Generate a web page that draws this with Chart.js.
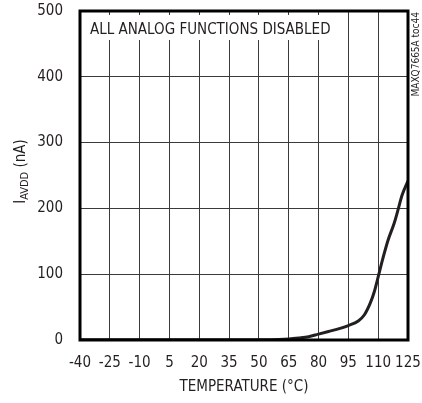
<!DOCTYPE html>
<html lang="en">
<head>
    <meta charset="UTF-8">
    <title>IAVDD vs Temperature</title>
    <script src="https://cdn.jsdelivr.net/npm/chart.js"></script>
    <style>
        body { margin: 0; background: #fff; }
        canvas { display: block; }
    </style>
</head>
<body>
    <canvas id="chart" width="422" height="403"></canvas>

    <script>
        const temps = [-40, -25, -10, 5, 20, 35, 50, 60, 65, 70, 75, 80, 85, 90, 95, 100, 103, 106, 108, 110, 112, 115, 118, 120, 122, 125];
        const current = [0.5, 0.5, 0.5, 0.5, 0.5, 0.5, 0.5, 0.8, 1.5, 3, 5, 9, 13, 17, 22, 29, 38, 56, 73, 96, 120, 152, 177, 198, 220, 242];
        const xTicks = [-40, -25, -10, 5, 20, 35, 50, 65, 80, 95, 110, 125];
        const yTicks = [0, 100, 200, 300, 400, 500];
        const note = 'ALL ANALOG FUNCTIONS DISABLED';
        const tocLabel = 'MAXQ7665A toc44';

        const FONT = "'Liberation Sans Narrow', 'DejaVu Sans Condensed', sans-serif";
        Chart.defaults.font.family = FONT;
        Chart.defaults.color = '#231f20';

        const extras = {
            id: 'extras',
            beforeDatasetsDraw(chart) {
                const { ctx, chartArea: a } = chart;
                ctx.save();
                // white box behind the note, covers the gridlines
                ctx.fillStyle = '#fff';
                ctx.fillRect(a.left + 1, a.top + 4, 255, 25);
                ctx.fillStyle = '#231f20';
                ctx.font = '15px ' + FONT;
                ctx.textBaseline = 'middle';
                ctx.fillText(note, a.left + 10, a.top + 19);
                ctx.restore();
            },
            afterDraw(chart) {
                const { ctx, chartArea: a } = chart;
                ctx.save();
                // frame
                ctx.strokeStyle = '#000';
                ctx.lineWidth = 3;
                ctx.strokeRect(a.left, a.top, a.right - a.left, a.bottom - a.top);

                ctx.fillStyle = '#231f20';
                // x title
                ctx.font = '15px ' + FONT;
                ctx.textAlign = 'center';
                ctx.textBaseline = 'middle';
                ctx.fillText('TEMPERATURE (°C)', (a.left + a.right) / 2, 387);

                // y title with subscript
                ctx.save();
                ctx.translate(20, (a.top + a.bottom) / 2 - 4);
                ctx.rotate(-Math.PI / 2);
                ctx.textAlign = 'left';
                ctx.textBaseline = 'alphabetic';
                const big = '15px ' + FONT, small = '11px ' + FONT;
                ctx.font = big;
                const w1 = ctx.measureText('I').width;
                ctx.font = small;
                const w2 = ctx.measureText('AVDD').width;
                ctx.font = big;
                const w3 = ctx.measureText(' (nA)').width;
                let x = -(w1 + w2 + w3) / 2;
                ctx.fillText('I', x, 5);
                x += w1;
                ctx.font = small;
                ctx.fillText('AVDD', x, 8);
                x += w2;
                ctx.font = big;
                ctx.fillText(' (nA)', x, 5);
                ctx.restore();

                // figure id on the right edge
                ctx.save();
                ctx.translate(419, 12);
                ctx.rotate(-Math.PI / 2);
                ctx.font = '10px ' + FONT;
                ctx.textAlign = 'right';
                ctx.textBaseline = 'alphabetic';
                ctx.fillText(tocLabel, 0, 0);
                ctx.restore();
                ctx.restore();
            }
        };

        new Chart(document.getElementById('chart'), {
            type: 'line',
            data: {
                datasets: [{
                    data: temps.map((t, i) => ({ x: t, y: current[i] })),
                    borderColor: '#231f20',
                    borderWidth: 3,
                    pointRadius: 0,
                    cubicInterpolationMode: 'monotone',
                    fill: false
                }]
            },
            options: {
                responsive: false,
                animation: false,
                devicePixelRatio: 1,
                layout: { padding: { left: 0, top: 11, right: 14, bottom: 0 } },
                plugins: { legend: { display: false }, tooltip: { enabled: false } },
                scales: {
                    x: {
                        type: 'linear',
                        min: -40,
                        max: 125,
                        afterBuildTicks: s => { s.ticks = xTicks.map(v => ({ value: v })); },
                        afterFit: s => { s.height = 63; s.paddingLeft = 0; s.paddingRight = 0; },
                        grid: { color: '#3a3a3a', lineWidth: 1, drawTicks: false },
                        border: { display: false },
                        ticks: { font: { size: 15 }, padding: 14, maxRotation: 0, autoSkip: false }
                    },
                    y: {
                        min: 0,
                        max: 500,
                        afterBuildTicks: s => { s.ticks = yTicks.map(v => ({ value: v })); },
                        afterFit: s => { s.width = 80; s.paddingTop = 0; s.paddingBottom = 0; },
                        grid: { color: '#3a3a3a', lineWidth: 1, drawTicks: false },
                        border: { display: false },
                        ticks: { font: { size: 15 }, padding: 17 }
                    }
                }
            },
            plugins: [extras]
        });
    </script>
</body>
</html>
